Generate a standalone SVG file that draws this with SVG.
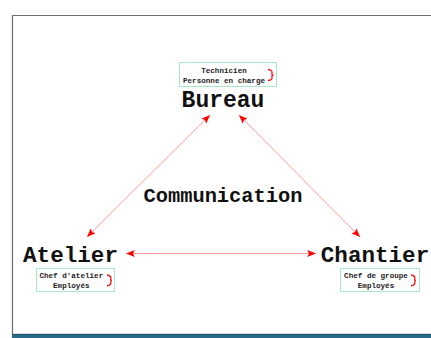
<svg xmlns="http://www.w3.org/2000/svg" width="431" height="338" viewBox="0 0 431 338">
<defs>
<style>
.big{font-family:"Liberation Mono","Courier New",monospace;font-weight:bold;fill:#111;}
.sm{font-family:"Liberation Mono","Courier New",monospace;font-weight:bold;font-size:7.6px;fill:#222;text-anchor:middle;}
.box{fill:#fff;stroke:#a8e6c8;stroke-width:1;}
.brace{fill:none;stroke:#ff1010;stroke-width:1.3;}
.link{stroke:#ff9c9c;stroke-width:1;fill:none;marker-start:url(#ah);marker-end:url(#ah);}
</style>
<marker id="ah" viewBox="0 0 10 8" refX="10" refY="4" markerWidth="10" markerHeight="7" markerUnits="userSpaceOnUse" orient="auto-start-reverse">
<path d="M0,0 L10,4 L0,8 L2,4 Z" fill="#ff0000"/>
</marker>
</defs>
<rect x="0" y="0" width="431" height="338" fill="#fff"/>
<path d="M12.5,338 V15.5 H431" fill="none" stroke="#6e6e6e" stroke-width="1.2"/>
<rect x="12" y="334" width="419" height="4" fill="#2a6b88"/>
<line x1="12" y1="334.3" x2="431" y2="334.3" stroke="#1a3f55" stroke-width="0.7"/>
<g id="connectors">
<line class="link" x1="210" y1="115" x2="87" y2="237"/>
<line class="link" x1="239" y1="115" x2="360" y2="237"/>
<line class="link" x1="126" y1="253.5" x2="316" y2="253.5"/>
</g>
<g id="bureau">
<rect class="box" x="179.5" y="62.5" width="97" height="24"/>
<text class="sm" x="224" y="73">Technicien</text>
<text class="sm" x="224" y="82.5">Personne en charge</text>
<path class="brace" d="M268,69.5 Q272.5,70 272,73 Q271.5,75 273.5,75 Q271.5,75 272,77.5 Q272.5,80 268,80.5"/>
<text class="big" x="223" y="107" font-size="23" text-anchor="middle">Bureau</text>
</g>
<g id="communication">
<text class="big" x="223" y="201.5" font-size="20.4" text-anchor="middle">Communication</text>
</g>
<g id="atelier">
<text class="big" x="70.5" y="262" font-size="22.6" text-anchor="middle">Atelier</text>
<rect class="box" x="36.5" y="268.5" width="78" height="23"/>
<text class="sm" x="71.3" y="277.5">Chef d'atelier</text>
<text class="sm" x="71.3" y="288">Employés</text>
<path class="brace" d="M107,275 Q111,275.5 110.8,278.5 Q110.5,280.3 112,280.3 Q110.5,280.3 110.8,282.5 Q111,285.5 107,285.8"/>
</g>
<g id="chantier">
<text class="big" x="375" y="262" font-size="22.6" text-anchor="middle">Chantier</text>
<rect class="box" x="340.5" y="268.5" width="79" height="23"/>
<text class="sm" x="376" y="277.5">Chef de groupe</text>
<text class="sm" x="376" y="288">Employés</text>
<path class="brace" d="M411,275 Q415,275.5 414.8,278.5 Q414.5,280.3 416,280.3 Q414.5,280.3 414.8,282.5 Q415,285.5 411,285.8"/>
</g>
</svg>
